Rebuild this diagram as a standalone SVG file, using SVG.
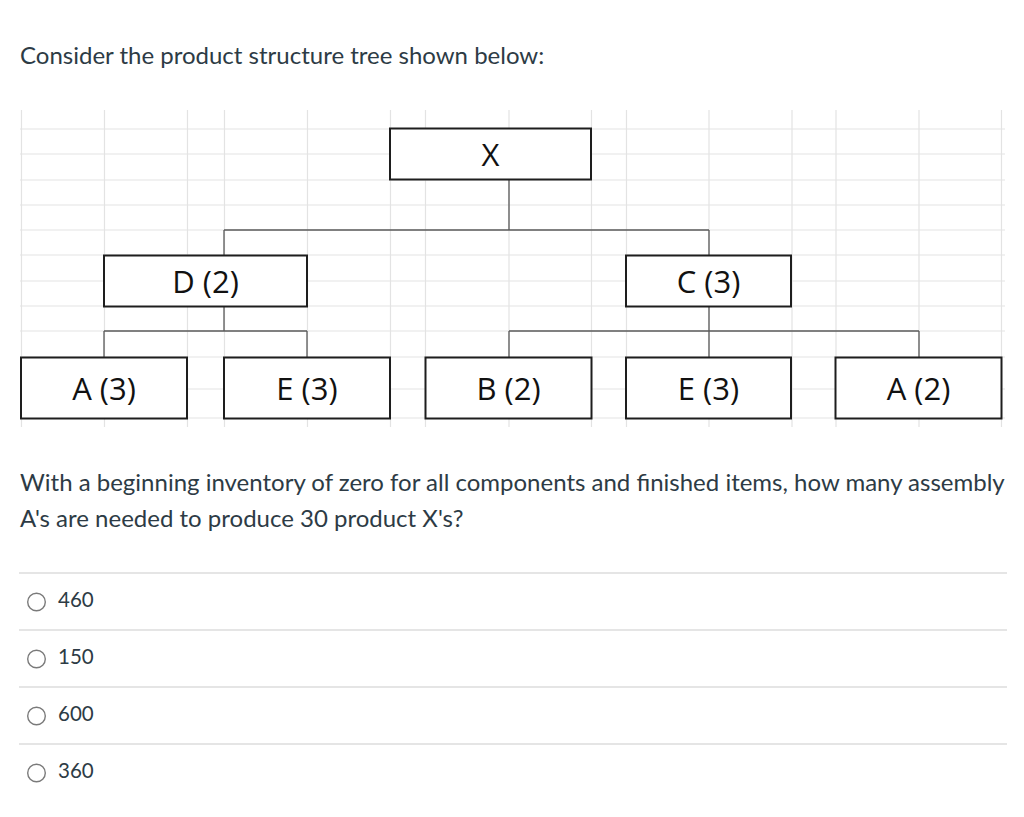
<svg xmlns="http://www.w3.org/2000/svg" width="1024" height="817" viewBox="0 0 1024 817">
<style>
.grid line{stroke:#e3e3e3;stroke-width:1.2}
.box rect{fill:#fff;stroke:#1e1e1e;stroke-width:2}
.box text{font-family:"Open Sans","Liberation Sans",sans-serif;font-size:31px;fill:#111;text-anchor:middle}
.conn line{stroke:#5a5a5a;stroke-width:1.3}
.t{font-family:Lato,"Liberation Sans",sans-serif;fill:#2d3b45}
.q{font-size:24px}
.opt{font-size:20.5px}
.sep{stroke:#dcdcdc;stroke-width:1.3}
.radio{fill:#fff;stroke:#7a7a7a;stroke-width:1.4}
</style>
<rect width="1024" height="817" fill="#fff"/>
<text class="t q" x="20" y="64">Consider the product structure tree shown below:</text>
<g class="grid">
<line x1="21.5" y1="110" x2="21.5" y2="427"/>
<line x1="104.5" y1="110" x2="104.5" y2="427"/>
<line x1="187.5" y1="110" x2="187.5" y2="427"/>
<line x1="224.5" y1="110" x2="224.5" y2="427"/>
<line x1="307.5" y1="110" x2="307.5" y2="427"/>
<line x1="390.5" y1="110" x2="390.5" y2="427"/>
<line x1="425.5" y1="110" x2="425.5" y2="427"/>
<line x1="509" y1="110" x2="509" y2="427"/>
<line x1="591.5" y1="110" x2="591.5" y2="427"/>
<line x1="626.5" y1="110" x2="626.5" y2="427"/>
<line x1="709" y1="110" x2="709" y2="427"/>
<line x1="792" y1="110" x2="792" y2="427"/>
<line x1="836" y1="110" x2="836" y2="427"/>
<line x1="919" y1="110" x2="919" y2="427"/>
<line x1="1001.5" y1="110" x2="1001.5" y2="427"/>
<line x1="20" y1="129" x2="1005" y2="129"/>
<line x1="20" y1="154" x2="1005" y2="154"/>
<line x1="20" y1="180" x2="1005" y2="180"/>
<line x1="20" y1="205" x2="1005" y2="205"/>
<line x1="20" y1="230" x2="1005" y2="230"/>
<line x1="20" y1="255" x2="1005" y2="255"/>
<line x1="20" y1="281" x2="1005" y2="281"/>
<line x1="20" y1="306" x2="1005" y2="306"/>
<line x1="20" y1="331" x2="1005" y2="331"/>
<line x1="20" y1="357" x2="1005" y2="357"/>
<line x1="20" y1="389" x2="1005" y2="389"/>
<line x1="20" y1="418" x2="1005" y2="418"/>
</g>
<g class="conn" id="connectors">
<line x1="509" y1="179" x2="509" y2="230"/>
<line x1="224" y1="230" x2="709" y2="230"/>
<line x1="224" y1="230" x2="224" y2="255"/>
<line x1="709" y1="230" x2="709" y2="255"/>
<line x1="224" y1="306" x2="224" y2="331"/>
<line x1="104" y1="331" x2="307" y2="331"/>
<line x1="104" y1="331" x2="104" y2="357"/>
<line x1="307" y1="331" x2="307" y2="357"/>
<line x1="709" y1="306" x2="709" y2="357"/>
<line x1="509" y1="331" x2="919" y2="331"/>
<line x1="509" y1="331" x2="509" y2="357"/>
<line x1="919" y1="331" x2="919" y2="357"/>
</g>
<g class="box" id="node-X"><rect x="390" y="128.5" width="201" height="51"/><text x="490.5" y="166">X</text></g>
<g class="box" id="node-D2"><rect x="104" y="255.5" width="203" height="51"/><text x="205.5" y="293">D (2)</text></g>
<g class="box" id="node-C3"><rect x="626" y="255.5" width="165" height="51"/><text x="708.5" y="293">C (3)</text></g>
<g class="box" id="node-A3"><rect x="21" y="357.5" width="166" height="61"/><text x="104" y="400">A (3)</text></g>
<g class="box" id="node-E3a"><rect x="224" y="357.5" width="166" height="61"/><text x="307" y="400">E (3)</text></g>
<g class="box" id="node-B2"><rect x="425.5" y="357.5" width="166" height="61"/><text x="508.5" y="400">B (2)</text></g>
<g class="box" id="node-E3b"><rect x="626" y="357.5" width="165" height="61"/><text x="708.5" y="400">E (3)</text></g>
<g class="box" id="node-A2"><rect x="835.5" y="357.5" width="166" height="61"/><text x="918.5" y="400">A (2)</text></g>
<text class="t q" x="20" y="491">With a beginning inventory of zero for all components and finished items, how many assembly</text>
<text class="t q" x="20" y="527">A's are needed to produce 30 product X's?</text>
<line class="sep" x1="19" y1="573" x2="1007" y2="573"/>
<line class="sep" x1="19" y1="630" x2="1007" y2="630"/>
<line class="sep" x1="19" y1="687" x2="1007" y2="687"/>
<line class="sep" x1="19" y1="744" x2="1007" y2="744"/>
<circle class="radio" cx="36.5" cy="602" r="8.8"/>
<text class="t opt" x="58" y="607">460</text>
<circle class="radio" cx="36.5" cy="659" r="8.8"/>
<text class="t opt" x="58" y="664">150</text>
<circle class="radio" cx="36.5" cy="716" r="8.8"/>
<text class="t opt" x="58" y="721">600</text>
<circle class="radio" cx="36.5" cy="773" r="8.8"/>
<text class="t opt" x="58" y="778">360</text>
</svg>
